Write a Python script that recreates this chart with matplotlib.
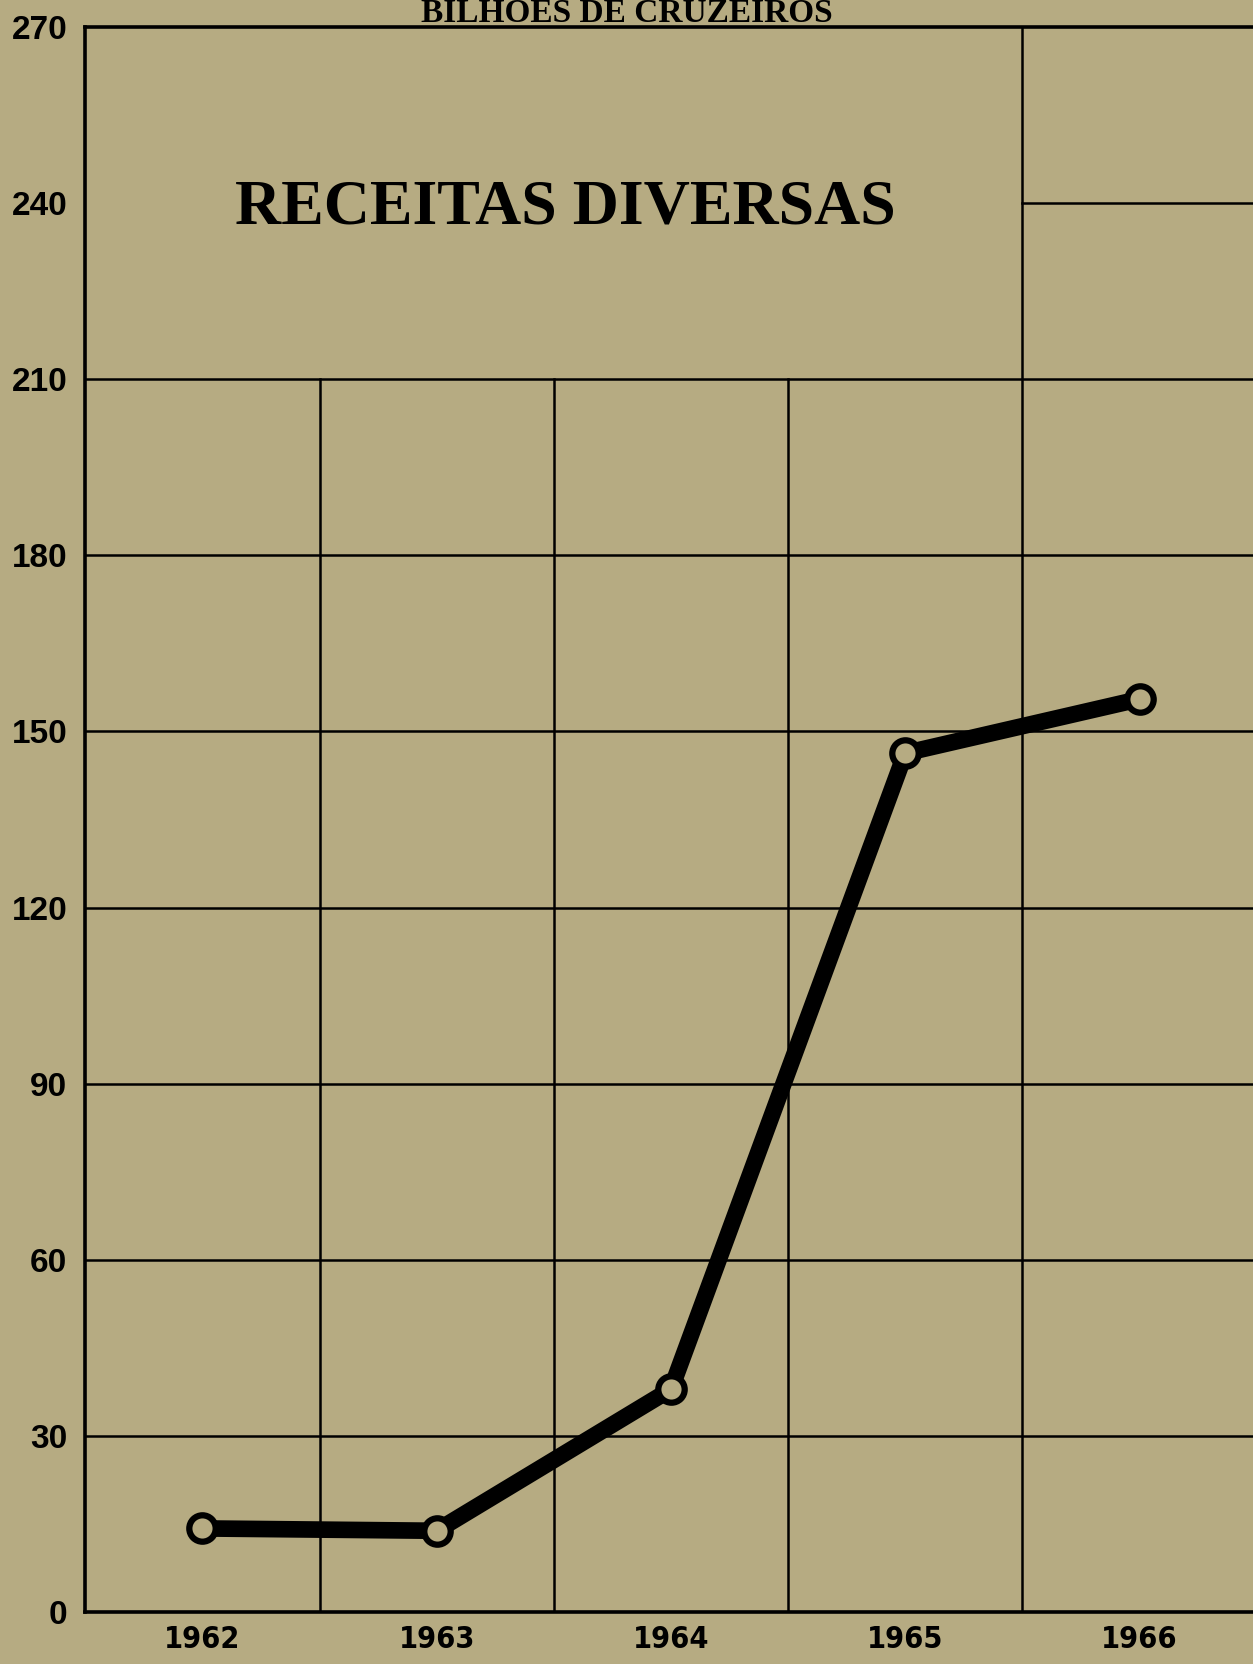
import matplotlib.pyplot as plt
import numpy as np

# receitas diversas, bilhoes de cruzeiros
anos = ["1962", "1963", "1964", "1965", "1966"]
valores = [14.3, 13.9, 38.0, 146.3, 155.5]
yticks = [0, 30, 60, 90, 120, 150, 180, 210, 240, 270]

papel = "#b6ab82"

fig = plt.figure(figsize=(12.53, 16.64), dpi=100, facecolor=papel)
ax = fig.add_axes([0.068, 0.031, 0.935, 0.953])
ax.set_facecolor(papel)
ax.set_xlim(0, 5)
ax.set_ylim(0, 270)

# grade: acima de 210 so a ultima coluna tem linhas
for y in [30, 60, 90, 120, 150, 180, 210]:
    ax.plot([0, 5], [y, y], color="black", lw=1.8, zorder=1)
ax.plot([4, 5], [240, 240], color="black", lw=1.8, zorder=1)
for x in [1, 2, 3]:
    ax.plot([x, x], [0, 210], color="black", lw=1.8, zorder=1)
ax.plot([4, 4], [0, 270], color="black", lw=1.8, zorder=1)

ax.spines["right"].set_visible(False)
for s in ["left", "bottom", "top"]:
    ax.spines[s].set_linewidth(2.6)

x = np.arange(len(anos)) + 0.5
ax.plot(x, valores, color="black", lw=12, solid_capstyle="round", zorder=3)
ax.plot(x, valores, "o", ms=19, mfc=papel, mec="black", mew=4.5, zorder=4)

ax.set_yticks(yticks)
ax.set_yticklabels([str(v) for v in yticks], fontsize=24, fontweight="bold",
                   family=["Liberation Sans", "DejaVu Sans"])
ax.set_xticks(x)
ax.set_xticklabels(anos, fontsize=22, fontweight="bold", fontstretch="condensed",
                   family=["DejaVu Sans"])
ax.tick_params(axis="y", length=0, pad=13)
ax.tick_params(axis="x", length=0, pad=9)

ax.text(2.05, 239, "RECEITAS DIVERSAS", ha="center", va="center", fontsize=46,
        fontweight="bold", family=["Liberation Serif", "DejaVu Serif"])
fig.text(0.5, 0.9865, "BILHÕES DE CRUZEIROS", ha="center", va="baseline",
         fontsize=24, fontweight="bold", family=["Liberation Serif", "DejaVu Serif"])

plt.savefig("out.png", dpi=100, facecolor=papel)
